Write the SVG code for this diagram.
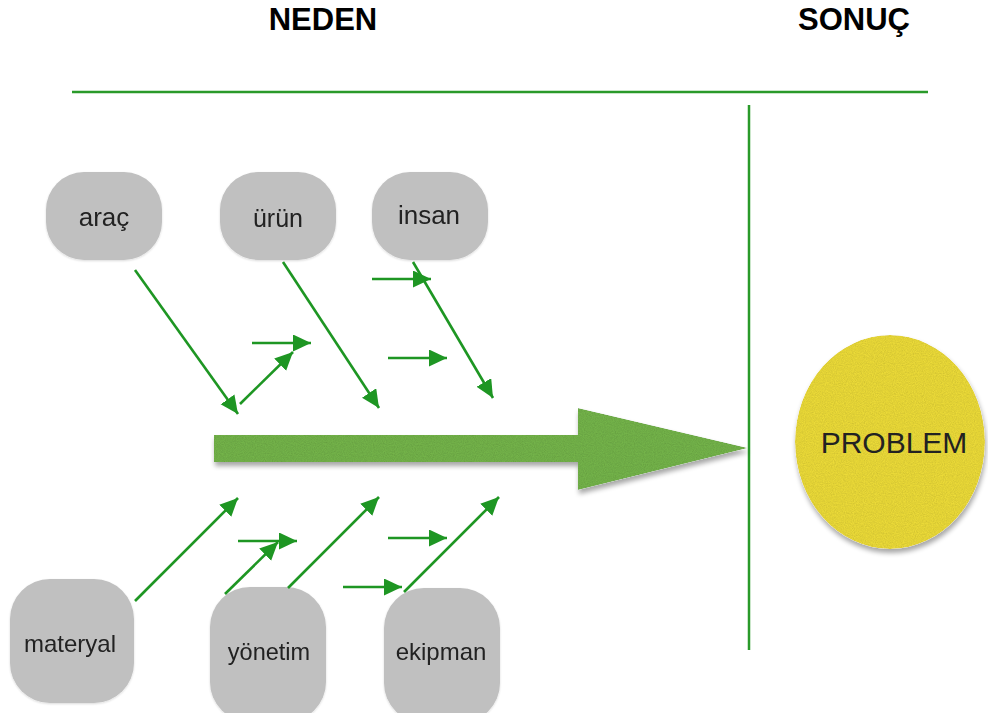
<svg xmlns="http://www.w3.org/2000/svg" width="988" height="713" viewBox="0 0 988 713">
<style>
.hdr{font-family:"Liberation Sans",Arial,sans-serif;font-weight:bold;font-size:31px;fill:#000;text-anchor:middle}
.box{fill:#c0c0c0}
.lbl{font-family:"Liberation Sans",Arial,sans-serif;fill:#222;text-anchor:middle}
.rule{stroke:#2a9a2a;stroke-width:2.5;fill:none}
.c{stroke:#1e9623;stroke-width:2.6;fill:none;marker-end:url(#ah)}
</style>
<defs>
<marker id="ah" markerUnits="userSpaceOnUse" markerWidth="20" markerHeight="18" viewBox="0 0 20 18" refX="18" refY="8.5" orient="auto">
<path d="M0,0 L18,8.5 L0,17 z" fill="#1e9623"/>
</marker>
<filter id="tex" x="-10%" y="-20%" width="125%" height="160%">
<feTurbulence type="fractalNoise" baseFrequency="0.9" numOctaves="2" seed="4" result="noise"/>
<feColorMatrix in="noise" type="saturate" values="0" result="gray"/>
<feComponentTransfer in="gray" result="g2">
<feFuncR type="linear" slope="0.45" intercept="0.68"/>
<feFuncG type="linear" slope="0.45" intercept="0.68"/>
<feFuncB type="linear" slope="0.45" intercept="0.68"/>
<feFuncA type="linear" slope="0" intercept="1"/>
</feComponentTransfer>
<feComposite in="g2" in2="SourceAlpha" operator="in" result="gm"/>
<feBlend in="SourceGraphic" in2="gm" mode="multiply" result="textured"/>
<feComposite in="textured" in2="SourceAlpha" operator="in" result="tx"/>
<feGaussianBlur in="SourceAlpha" stdDeviation="2.5" result="b"/>
<feOffset in="b" dx="1" dy="4" result="o"/>
<feComponentTransfer in="o" result="sh"><feFuncA type="linear" slope="0.35"/></feComponentTransfer>
<feMerge><feMergeNode in="sh"/><feMergeNode in="tx"/></feMerge>
</filter>
<filter id="soft" x="-10%" y="-10%" width="120%" height="120%">
<feGaussianBlur in="SourceAlpha" stdDeviation="1" result="b"/>
<feOffset in="b" dx="0" dy="1" result="o"/>
<feComponentTransfer in="o" result="sh"><feFuncA type="linear" slope="0.15"/></feComponentTransfer>
<feMerge><feMergeNode in="sh"/><feMergeNode in="SourceGraphic"/></feMerge>
</filter>
</defs>
<rect width="988" height="713" fill="#fff"/>
<g id="headers">
<text class="hdr" x="323" y="30">NEDEN</text>
<text class="hdr" x="854" y="30">SONUÇ</text>
</g>
<g id="rules">
<line class="rule" x1="72" y1="92" x2="928" y2="92"/>
<line class="rule" x1="749" y1="105" x2="749" y2="650"/>
</g>
<g id="spine">
<polygon points="214,435 578,435 578,408 748,448 578,490 578,462 214,462" fill="#74b44a" filter="url(#tex)"/>
</g>
<g id="problem">
<ellipse cx="890" cy="442" rx="95" ry="107" fill="#ecdb38" filter="url(#tex)"/>
<text class="lbl" x="894" y="453" font-size="30" fill="#111">PROBLEM</text>
</g>
<g id="arac" filter="url(#soft)">
<rect class="box" x="46" y="172" width="116" height="88" rx="38"/>
<text class="lbl" x="104" y="226" font-size="26" fill="#111">araç</text>
</g>
<g id="urun" filter="url(#soft)">
<rect class="box" x="220" y="172" width="116" height="88" rx="38"/>
<text class="lbl" x="278" y="227" font-size="25" fill="#333">ürün</text>
</g>
<g id="insan" filter="url(#soft)">
<rect class="box" x="372" y="172" width="116" height="88" rx="38"/>
<text class="lbl" x="429" y="224" font-size="26" fill="#333">insan</text>
</g>
<g id="materyal" filter="url(#soft)">
<rect class="box" x="10" y="579" width="124" height="124" rx="40"/>
<text class="lbl" x="70" y="652" font-size="24" fill="#333">materyal</text>
</g>
<g id="yonetim" filter="url(#soft)">
<rect class="box" x="210" y="587" width="116" height="135" rx="40"/>
<text class="lbl" x="269" y="660" font-size="23.5" fill="#333">yönetim</text>
</g>
<g id="ekipman" filter="url(#soft)">
<rect class="box" x="384" y="588" width="116" height="135" rx="40"/>
<text class="lbl" x="441" y="660" font-size="24" fill="#333">ekipman</text>
</g>
<g id="connectors">
<line class="c" x1="135" y1="270" x2="238" y2="414"/>
<line class="c" x1="240" y1="404" x2="293" y2="352"/>
<line class="c" x1="252" y1="343" x2="311" y2="343"/>
<line class="c" x1="283" y1="262" x2="379" y2="408"/>
<line class="c" x1="372" y1="279" x2="431" y2="279"/>
<line class="c" x1="413" y1="262" x2="493" y2="398"/>
<line class="c" x1="388" y1="358" x2="447" y2="358"/>
<line class="c" x1="135" y1="601" x2="238" y2="498"/>
<line class="c" x1="225" y1="594" x2="278" y2="542"/>
<line class="c" x1="238" y1="541" x2="297" y2="541"/>
<line class="c" x1="288" y1="588" x2="379" y2="497"/>
<line class="c" x1="388" y1="538" x2="447" y2="538"/>
<line class="c" x1="343" y1="587" x2="402" y2="587"/>
<line class="c" x1="404" y1="592" x2="499" y2="497"/>
</g>
</svg>
